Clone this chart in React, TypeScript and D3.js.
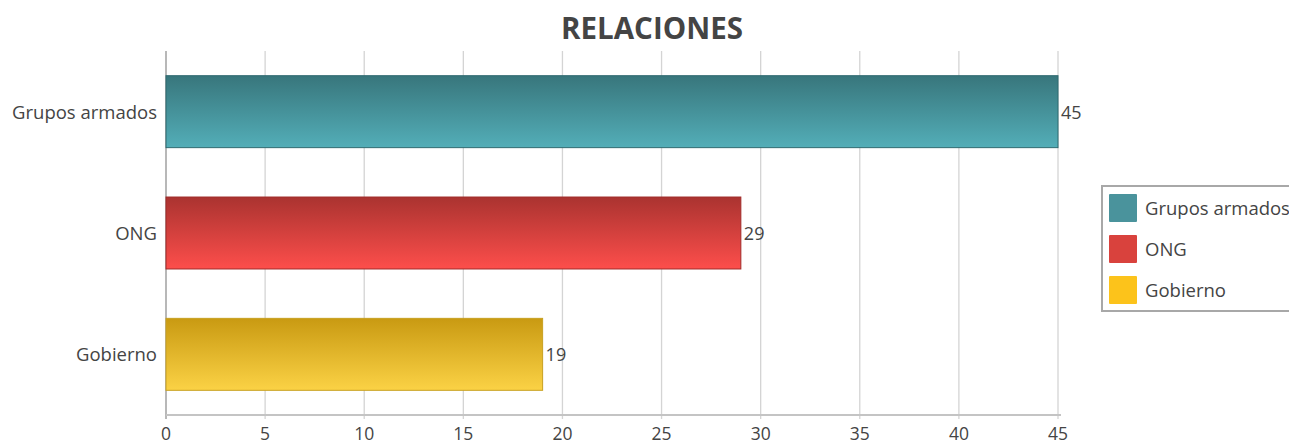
import React from "react";
import * as d3 from "d3";

const categories = ["Grupos armados", "ONG", "Gobierno"];
const values = [45, 29, 19];
const tickValues = [0, 5, 10, 15, 20, 25, 30, 35, 40, 45];
const legendColors = ["#4a939c", "#d9423d", "#fcc31b"];
const gradTop = ["#38767c", "#aa3330", "#c99a12"];
const gradBottom = ["#53aeb8", "#fd4e4b", "#fbd245"];
const strokeColors = ["#2f6a70", "#a02a28", "#c8a020"];

const W = 1289;
const H = 442;
const FONT = "'Open Sans', 'Noto Sans', sans-serif";

export default function App() {
  const left = 166, right = 1058, top = 51, bottom = 415;
  const x = d3.scaleLinear().domain([0, 45]).range([left, right]);
  const y = d3
    .scaleBand<string>()
    .domain(categories)
    .range([top, bottom])
    .paddingInner(0.407)
    .paddingOuter(0.2035);

  return (
    <div style={{ position: "absolute", left: 0, top: 0 }}>
      <svg width={W} height={H} style={{ display: "block", fontFamily: FONT }}>
        <defs>
          {categories.map((c, i) => (
            <linearGradient key={c} id={`g${i}`} x1="0" y1="0" x2="0" y2="1">
              <stop offset="0%" stopColor={gradTop[i]} />
              <stop offset="100%" stopColor={gradBottom[i]} />
            </linearGradient>
          ))}
        </defs>
        <rect width={W} height={H} fill="#fff" />
        <text x={652} y={39} textAnchor="middle" fontSize={29.5} fontWeight="bold" fill="#444">
          RELACIONES
        </text>
        {tickValues.map((t) => (
          <line
            key={t}
            x1={x(t)}
            x2={x(t)}
            y1={top}
            y2={bottom + 4}
            stroke={t === 0 ? "#b8b8b8" : "#d4d4d4"}
            strokeWidth={t === 0 ? 2 : 1.3}
          />
        ))}
        <line x1={left} x2={right + 3} y1={bottom} y2={bottom} stroke="#c4c4c4" strokeWidth={2} />
        {tickValues.map((t) => (
          <text key={"l" + t} x={x(t)} y={440} textAnchor="middle" fontSize={17.5} fill="#444">
            {t}
          </text>
        ))}
        {categories.map((c, i) => {
          const y0 = y(c)!;
          const bw = y.bandwidth();
          return (
            <g key={c}>
              <rect
                x={x(0)}
                y={y0}
                width={x(values[i]) - x(0)}
                height={bw}
                fill={`url(#g${i})`}
                stroke={strokeColors[i]}
                strokeWidth={1}
              />
              <text x={x(values[i]) + 3} y={y0 + bw / 2 + 7} fontSize={18} fill="#444">
                {values[i]}
              </text>
              <text x={157} y={y0 + bw / 2 + 7} textAnchor="end" fontSize={18.5} fill="#444">
                {c}
              </text>
            </g>
          );
        })}
        <rect x={1102} y={186} width={200} height={125} fill="#fff" stroke="#a8a8a8" strokeWidth={2} />
        {categories.map((c, i) => (
          <g key={"lg" + c}>
            <rect x={1109} y={194 + i * 41} width={28} height={28} rx={1} fill={legendColors[i]} />
            <text x={1145} y={215 + i * 41} fontSize={18.5} fill="#444">
              {c}
            </text>
          </g>
        ))}
      </svg>
    </div>
  );
}
